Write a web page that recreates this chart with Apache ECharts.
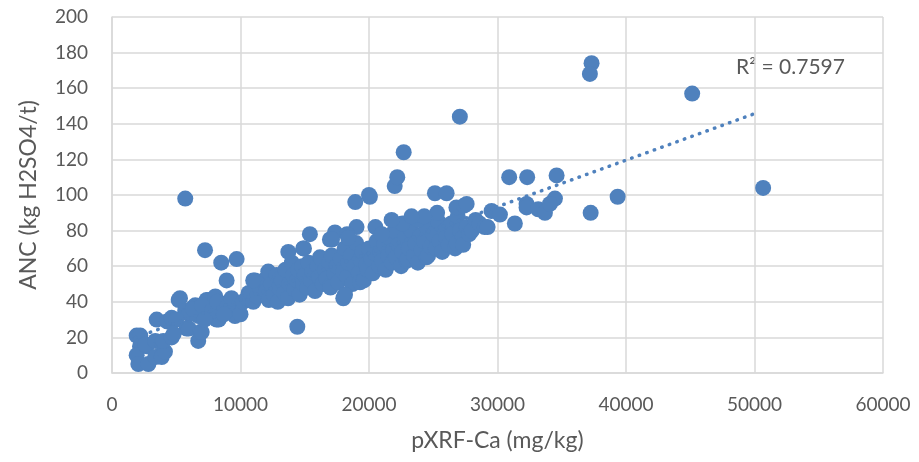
<!DOCTYPE html>
<html>
<head>
<meta charset="utf-8">
<script src="https://cdn.jsdelivr.net/npm/echarts@6/dist/echarts.min.js"></script>
<style>
  html, body { margin: 0; padding: 0; background: #fff; }
  #chart { width: 919px; height: 462px; }
</style>
</head>
<body>
<div id="chart"></div>
<script>
// pXRF-Ca (mg/kg) vs ANC (kg H2SO4/t)
const lowPoints = [
  [1920, 21], [2200, 21], [2180, 15], [1920, 10], [2050, 5], [2830, 5], [2700, 15],
  [2600, 16], [3370, 18], [3890, 17], [4020, 12], [3370, 9], [3870, 9], [4120, 12],
  [3990, 18], [4640, 20], [3480, 30], [4280, 29], [4640, 31], [5190, 41], [5290, 42],
  [5810, 25], [5970, 25], [6710, 18], [6870, 23], [6980, 23], [5700, 35], [6330, 37],
  [6480, 38], [7360, 41], [7520, 41], [8040, 43], [8140, 30], [8300, 30], [9600, 33],
  [9570, 32], [8560, 39], [9860, 37], [7520, 34], [6740, 32], [6000, 33], [6300, 36],
  [7000, 38], [7800, 35], [8200, 40], [9000, 38], [9300, 42], [10000, 33], [7200, 30],
  [5000, 30], [4800, 22], [8700, 33], [10640, 45], [11130, 51], [11130, 52]
];
const bandPoints = [
  [10200, 40], [10500, 42], [10800, 45], [11000, 40], [11300, 43], [11500, 48], [11800, 52],
  [12000, 46], [12160, 57], [12200, 41], [12400, 50], [12600, 44], [12800, 55], [12900, 40],
  [13000, 48], [13070, 53], [13200, 52], [13400, 45], [13500, 58], [13700, 42], [13800, 50],
  [14000, 62], [14100, 55], [14200, 47], [14400, 52], [14500, 58], [14600, 44], [14800, 60],
  [14900, 50], [15000, 55], [15200, 48], [15300, 62], [15500, 52], [15600, 57], [15800, 46],
  [16000, 60], [16100, 54], [16180, 65], [16300, 64], [16400, 50], [16600, 58], [16700, 53],
  [16900, 62], [16960, 49], [17000, 48], [17100, 66], [17300, 56], [17500, 60], [17600, 51],
  [17800, 64], [18000, 57], [18100, 70], [18300, 54], [18400, 62], [18600, 66], [18700, 50],
  [18900, 60], [19000, 73], [19200, 56], [19300, 64], [19300, 51], [19500, 68], [19600, 52],
  [19800, 61], [19900, 58], [20000, 70], [20200, 64], [20300, 56], [20500, 67], [20600, 74],
  [20800, 60], [20900, 68], [21000, 63], [21200, 72], [21300, 58], [21500, 66], [21600, 76],
  [21800, 62], [21900, 69], [22000, 80], [22100, 65], [22300, 72], [22500, 60], [22600, 68],
  [22800, 76], [22930, 63], [23000, 64], [23100, 70], [23300, 80], [23500, 66], [23600, 73],
  [23800, 62], [24000, 77], [24100, 69], [24300, 74], [24480, 65], [24500, 82], [24600, 66],
  [24800, 71], [25000, 78], [25200, 70], [25400, 85], [25500, 74], [25700, 68], [25900, 80],
  [26000, 76], [26200, 72], [26400, 84], [26500, 78], [26700, 70], [26820, 73], [26900, 88],
  [27100, 80], [27300, 76], [27330, 72], [27600, 82], [27800, 78], [28000, 80], [28300, 86],
  [28600, 84], [29000, 82], [25300, 90], [26800, 93], [27400, 94], [20500, 82], [21000, 78],
  [22600, 84], [23800, 86], [24300, 88], [19030, 82], [21760, 86], [23310, 88], [17350, 79],
  [18290, 78], [16960, 75], [17120, 75], [18380, 76], [13720, 68], [14880, 70], [14940, 70],
  [15400, 78], [10990, 52], [18000, 42], [18130, 44], [14420, 26]
];
const highPoints = [
  [5700, 98], [7240, 69], [8500, 62], [9700, 64], [8920, 52], [18930, 96], [20070, 99],
  [20000, 100], [22000, 105], [22200, 110], [22700, 124], [27070, 144], [25130, 101],
  [26040, 101], [27600, 95], [29540, 91], [30190, 89], [29230, 82], [31350, 84],
  [30910, 110], [32310, 110], [34600, 111], [34470, 98], [32260, 95], [32260, 93],
  [33170, 92], [33690, 90], [34080, 95], [37250, 90], [39350, 99], [37320, 174],
  [37190, 168], [45150, 157], [50670, 104]
];
const points = lowPoints.concat(bandPoints, highPoints);
const trend = [[1800, 19.8], [50200, 146.2]];
const r2Label = 'R\u00B2 = 0.7597';

const textColor = '#595959';
const gridColor = '#D9D9D9';
const font = 'Lato, "Open Sans", sans-serif';

const chart = echarts.init(document.getElementById('chart'));
chart.setOption({
  animation: false,
  grid: { left: 112, right: 36, top: 17, bottom: 89 },
  xAxis: {
    type: 'value',
    min: 0,
    max: 60000,
    interval: 10000,
    name: 'pXRF-Ca (mg/kg)',
    nameLocation: 'middle',
    nameGap: 56,
    nameTextStyle: { color: textColor, fontSize: 23, fontFamily: font },
    axisLine: { lineStyle: { color: gridColor, width: 1.5 } },
    axisTick: { show: false },
    axisLabel: {
      color: textColor, fontSize: 19, fontFamily: font, margin: 22,
      formatter: (v) => String(v)
    },
    splitLine: { lineStyle: { color: gridColor, width: 1.5 } }
  },
  yAxis: {
    type: 'value',
    min: 0,
    max: 200,
    interval: 20,
    name: 'ANC (kg H2SO4/t)',
    nameLocation: 'middle',
    nameGap: 72,
    nameTextStyle: { color: textColor, fontSize: 23, fontFamily: font },
    axisLine: { show: true, lineStyle: { color: gridColor, width: 1.5 } },
    axisTick: { show: false },
    axisLabel: { color: textColor, fontSize: 19, fontFamily: font, margin: 24 },
    splitLine: { lineStyle: { color: gridColor, width: 1.5 } }
  },
  series: [
    {
      type: 'scatter',
      data: points,
      symbolSize: 16,
      itemStyle: { color: '#4F81BD', opacity: 1 }
    },
    {
      type: 'line',
      data: trend,
      symbol: 'none',
      z: 3,
      lineStyle: { color: '#4F81BD', width: 3.5, type: [0.5, 7.5], cap: 'round' }
    }
  ],
  graphic: [
    {
      type: 'text',
      left: 736,
      top: 57,
      style: { text: r2Label, fill: textColor, fontSize: 21, fontFamily: font }
    }
  ]
});
</script>
</body>
</html>
